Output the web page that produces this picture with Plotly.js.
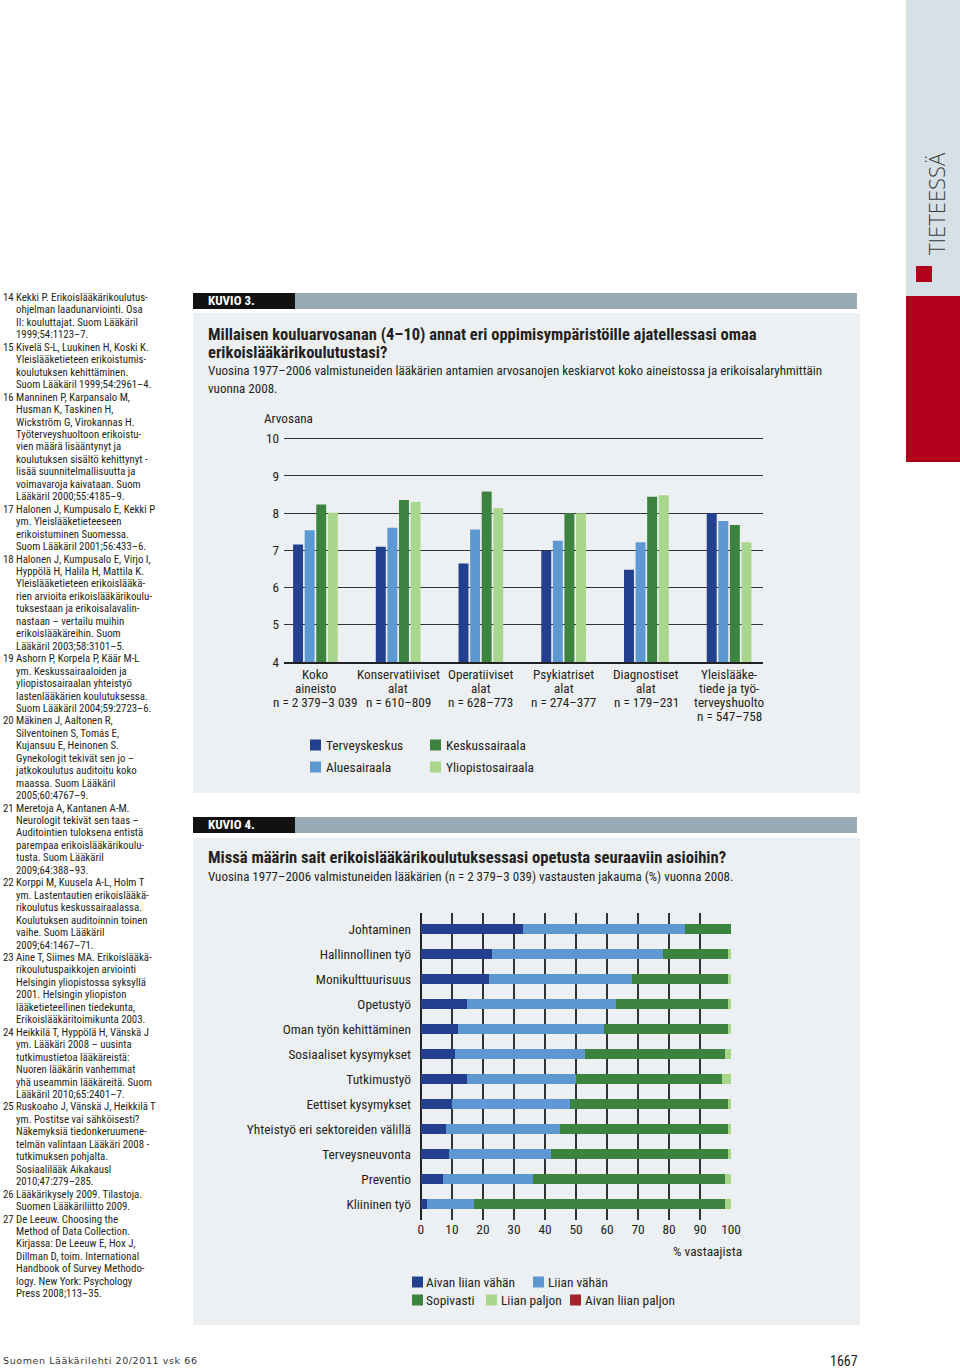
<!DOCTYPE html>
<html><head><meta charset="utf-8">
<script src="https://cdn.plot.ly/plotly-3.0.1.min.js"></script>
<style>
body{margin:0;background:#fff;}
#page{position:relative;width:960px;height:1370px;overflow:hidden;font-family:"Roboto Condensed","DejaVu Sans Condensed",sans-serif;color:#231f20;}
.refs{position:absolute;left:0;top:292px;width:190px;font-size:10.8px;line-height:12.45px;}
.ref{position:relative;padding-left:16px;white-space:nowrap;}
.ref .n{position:absolute;left:3px;top:0;}
.hdr{position:absolute;left:193px;width:664px;height:16px;background:#9aabb8;}
.hdr .lab{position:absolute;left:0;top:0;width:102px;height:16px;background:#111;color:#fff;font-weight:bold;font-size:13px;line-height:16px;padding-left:15px;box-sizing:border-box;}
.panel{position:absolute;left:193px;width:667px;background:#edf0f2;}
.ln{position:absolute;left:208px;white-space:nowrap;line-height:18px;}
.t{font-weight:bold;font-size:16.5px;}
.s{font-size:13.05px;}
.plot{position:absolute;left:193px;width:667px;}
#side1{position:absolute;left:906px;top:0;width:54px;height:296px;background:#d5e0e7;}
#side2{position:absolute;left:906px;top:296px;width:54px;height:166px;background:#b0001a;}
#sidetxt{position:absolute;left:925px;top:255px;transform-origin:0 0;transform:rotate(-90deg);font-family:"Open Sans","DejaVu Sans",sans-serif;font-weight:300;font-size:22px;line-height:22px;color:#3a3a3a;white-space:nowrap;}
#sidesq{position:absolute;left:916px;top:266px;width:16px;height:16px;background:#b0001a;}
#foot1{position:absolute;left:3px;top:1355px;font-family:"DejaVu Sans",sans-serif;font-size:9.5px;letter-spacing:0.6px;color:#333;}
#foot2{position:absolute;left:830px;top:1353px;font-size:14px;color:#222;}
</style></head>
<body><div id="page">
<div id="side1"></div><div id="side2"></div>
<div id="sidetxt">TIETEESSÄ</div><div id="sidesq"></div>
<div class="refs" id="refs"></div>

<div class="hdr" style="top:293px"><div class="lab">KUVIO 3.</div></div>
<div class="panel" style="top:313px;height:480px"></div>
<div class="ln t" style="top:326px">Millaisen kouluarvosanan (4–10) annat eri oppimisympäristöille ajatellessasi omaa</div>
<div class="ln t" style="top:344px">erikoislääkärikoulutustasi?</div>
<div class="ln s" style="top:362px">Vuosina 1977–2006 valmistuneiden lääkärien antamien arvosanojen keskiarvot koko aineistossa ja erikoisalaryhmittäin</div>
<div class="ln s" style="top:380px">vuonna 2008.</div>
<div class="plot" id="chart3" style="top:400px;height:390px"></div>

<div class="hdr" style="top:817px"><div class="lab">KUVIO 4.</div></div>
<div class="panel" style="top:838px;height:487px"></div>
<div class="ln t" style="top:849px;font-size:16.6px">Missä määrin sait erikoislääkärikoulutuksessasi opetusta seuraaviin asioihin?</div>
<div class="ln s" style="top:868px;font-size:13px">Vuosina 1977–2006 valmistuneiden lääkärien (n = 2 379–3 039) vastausten jakauma (%) vuonna 2008.</div>
<div class="plot" id="chart4" style="top:900px;height:420px"></div>

<div id="foot1">Suomen Lääkärilehti 20/2011 vsk 66</div>
<div id="foot2">1667</div>
</div>
<script>
// ---------- References (left column) ----------
const references = [
 ["14","Kekki P. Erikoislääkärikoulutus-","ohjelman laadunarviointi. Osa","II: kouluttajat. Suom Lääkäril","1999;54:1123–7."],
 ["15","Kivelä S-L, Luukinen H, Koski K.","Yleislääketieteen erikoistumis-","koulutuksen kehittäminen.","Suom Lääkäril 1999;54:2961–4."],
 ["16","Manninen P, Karpansalo M,","Husman K, Taskinen H,","Wickström G, Virokannas H.","Työterveyshuoltoon erikoistu-","vien määrä lisääntynyt ja","koulutuksen sisältö kehittynyt -","lisää suunnitelmallisuutta ja","voimavaroja kaivataan. Suom","Lääkäril 2000;55:4185–9."],
 ["17","Halonen J, Kumpusalo E, Kekki P","ym. Yleislääketieteeseen","erikoistuminen Suomessa.","Suom Lääkäril 2001;56:433–6."],
 ["18","Halonen J, Kumpusalo E, Virjo I,","Hyppölä H, Halila H, Mattila K.","Yleislääketieteen erikoislääkä-","rien arvioita erikoislääkärikoulu-","tuksestaan ja erikoisalavalin-","nastaan – vertailu muihin","erikoislääkäreihin. Suom","Lääkäril 2003;58:3101–5."],
 ["19","Ashorn P, Korpela P, Käär M-L","ym. Keskussairaaloiden ja","yliopistosairaalan yhteistyö","lastenlääkärien koulutuksessa.","Suom Lääkäril 2004;59:2723–6."],
 ["20","Mäkinen J, Aaltonen R,","Silventoinen S, Tomás E,","Kujansuu E, Heinonen S.","Gynekologit tekivät sen jo –","jatkokoulutus auditoitu koko","maassa. Suom Lääkäril","2005;60:4767–9."],
 ["21","Meretoja A, Kantanen A-M.","Neurologit tekivät sen taas –","Auditointien tuloksena entistä","parempaa erikoislääkärikoulu-","tusta. Suom Lääkäril","2009;64:388–93."],
 ["22","Korppi M, Kuusela A-L, Holm T","ym. Lastentautien erikoislääkä-","rikoulutus keskussairaalassa.","Koulutuksen auditoinnin toinen","vaihe. Suom Lääkäril","2009;64:1467–71."],
 ["23","Aine T, Siimes MA. Erikoislääkä-","rikoulutuspaikkojen arviointi","Helsingin yliopistossa syksyllä","2001. Helsingin yliopiston","lääketieteellinen tiedekunta,","Erikoislääkäritoimikunta 2003."],
 ["24","Heikkilä T, Hyppölä H, Vänskä J","ym. Lääkäri 2008 – uusinta","tutkimustietoa lääkäreistä:","Nuoren lääkärin vanhemmat","yhä useammin lääkäreitä. Suom","Lääkäril 2010;65:2401–7."],
 ["25","Ruskoaho J, Vänskä J, Heikkilä T","ym. Postitse vai sähköisesti?","Näkemyksiä tiedonkeruumene-","telmän valintaan Lääkäri 2008 -","tutkimuksen pohjalta.","Sosiaalilääk Aikakausl","2010;47:279–285."],
 ["26","Lääkärikysely 2009. Tilastoja.","Suomen Lääkäriliitto 2009."],
 ["27","De Leeuw. Choosing the","Method of Data Collection.","Kirjassa: De Leeuw E, Hox J,","Dillman D, toim. International","Handbook of Survey Methodo-","logy. New York: Psychology","Press 2008;113–35."]
];
(function(){
  const box = document.getElementById('refs');
  references.forEach(r => {
    const d = document.createElement('div'); d.className='ref';
    const n = document.createElement('span'); n.className='n'; n.textContent=r[0]; d.appendChild(n);
    r.slice(1).forEach((line,i)=>{ if(i) d.appendChild(document.createElement('br')); d.appendChild(document.createTextNode(line)); });
    box.appendChild(d);
  });
})();

// ---------- KUVIO 3 data ----------
const groups3 = ["Koko aineisto","Konservatiiviset alat","Operatiiviset alat","Psykiatriset alat","Diagnostiset alat","Yleislääketiede ja työterveyshuolto"];
const groupLabelLines3 = [
  ["Koko","aineisto","n = 2 379–3 039"],
  ["Konservatiiviset","alat","n = 610–809"],
  ["Operatiiviset","alat","n = 628–773"],
  ["Psykiatriset","alat","n = 274–377"],
  ["Diagnostiset","alat","n = 179–231"],
  ["Yleislääke-","tiede ja työ-","terveyshuolto","n = 547–758"]
];
const terveyskeskus     = [7.16, 7.10, 6.65, 6.99, 6.48, 8.00];
const aluesairaala      = [7.54, 7.61, 7.56, 7.26, 7.22, 7.79];
const keskussairaala    = [8.23, 8.35, 8.58, 8.00, 8.44, 7.68];
const yliopistosairaala = [8.01, 8.30, 8.13, 8.00, 8.48, 7.22];

// ---------- KUVIO 4 data ----------
const topics = ["Johtaminen","Hallinnollinen työ","Monikulttuurisuus","Opetustyö","Oman työn kehittäminen","Sosiaaliset kysymykset","Tutkimustyö","Eettiset kysymykset","Yhteistyö eri sektoreiden välillä","Terveysneuvonta","Preventio","Kliininen työ"];
const aivanLiianVahan  = [33,23,22,15,12,11,15,10, 8, 9, 7, 2];
const liianVahan       = [52,55,46,48,47,42,35,38,37,33,29,15];
const sopivasti        = [15,21,31,36,40,45,47,51,54,57,62,81];
const liianPaljon      = [ 0, 1, 1, 1, 1, 2, 3, 1, 1, 1, 2, 2];
const aivanLiianPaljon = [ 0, 0, 0, 0, 0, 0, 0, 0, 0, 0, 0, 0];

const FONT = 'Roboto Condensed, DejaVu Sans Condensed, sans-serif';
const TXT = '#231f20';
const C_DB='#23408e', C_LB='#5e98d2', C_G='#3c8340', C_LG='#a9d68c', C_R='#a3232d';

// Legend key builder: square + label for each trace (names/colours taken from the traces),
// placed at pixel slots (page coordinates) converted to paper fractions of the plot area.
function legendKeys(traces, slots, L, W, B, H, fs){
  const shapes=[], ann=[];
  traces.forEach((tr,i)=>{
    const s=slots[i], sz=11;
    shapes.push({type:'rect',xref:'paper',yref:'paper',
      x0:(s.sq-L)/W, x1:(s.sq+sz-L)/W, y0:(B-(s.y+sz/2))/H, y1:(B-(s.y-sz/2))/H,
      fillcolor:tr.marker.color,line:{width:0},layer:'above'});
    ann.push({xref:'paper',yref:'paper',x:(s.tx-2-L)/W,y:(B-s.y)/H,xanchor:'left',yanchor:'middle',
      text:tr.name,showarrow:false,font:{size:fs}});
  });
  return {shapes,ann};
}

// chart 3
(function(){
  const L=284, W=479, B=662, H=227;
  const mk=(name,y,col)=>({type:'bar',name:name,x:groups3,y:y,marker:{color:col},hoverinfo:'skip'});
  const data=[mk('Terveyskeskus',terveyskeskus,C_DB),
              mk('Aluesairaala',aluesairaala,C_LB),
              mk('Keskussairaala',keskussairaala,C_G),
              mk('Yliopistosairaala',yliopistosairaala,C_LG)];
  const slots=[{sq:310,tx:326,y:745},{sq:310,tx:326,y:767},{sq:430,tx:446,y:745},{sq:430,tx:446,y:767}];
  const lg=legendKeys(data,slots,L,W,B,H,13.4);
  const ann=[{xref:'paper',yref:'paper',x:(264-2-L)/W,y:1+(435-418)/H,xanchor:'left',yanchor:'middle',text:'Arvosana',showarrow:false,font:{size:13.2}}];
  groupLabelLines3.forEach((lines,i)=>lines.forEach((t,j)=>ann.push({
    xref:'x',yref:'paper',x:groups3[i],y:-(12+14*j)/H,xanchor:'center',yanchor:'middle',
    text:t,showarrow:false,font:{size:13.2}})));
  const layout={
    width:667,height:390,margin:{l:91,r:97,t:35,b:128,autoexpand:false},
    paper_bgcolor:'rgba(0,0,0,0)',plot_bgcolor:'rgba(0,0,0,0)',
    font:{family:FONT,size:13.2,color:TXT},
    barmode:'group',bargap:0.44,bargroupgap:0.14,showlegend:false,
    xaxis:{type:'category',range:[-0.38,5.41],showline:true,linecolor:'#222',linewidth:2,ticks:'',showticklabels:false,showgrid:false,fixedrange:true},
    yaxis:{range:[4,10.1],dtick:1,tick0:4,showgrid:true,gridcolor:'#333',gridwidth:1,zeroline:false,ticks:'',ticklabelstandoff:4,tickfont:{size:13.2},fixedrange:true},
    shapes:lg.shapes,
    annotations:ann.concat(lg.ann)
  };
  Plotly.newPlot('chart3',data,layout,{displayModeBar:false,staticPlot:true});
})();

// chart 4
(function(){
  const L=420, W=312, B=1220, H=307;
  const mk=(name,x,col)=>({type:'bar',orientation:'h',name:name,y:topics,x:x,marker:{color:col},hoverinfo:'skip'});
  const data=[mk('Aivan liian vähän',aivanLiianVahan,C_DB),
              mk('Liian vähän',liianVahan,C_LB),
              mk('Sopivasti',sopivasti,C_G),
              mk('Liian paljon',liianPaljon,C_LG),
              mk('Aivan liian paljon',aivanLiianPaljon,C_R)];
  const slots=[{sq:412,tx:426,y:1282},{sq:533,tx:548,y:1282},{sq:412,tx:426,y:1300},{sq:486,tx:501,y:1300},{sq:570,tx:585,y:1300}];
  const lg=legendKeys(data,slots,L,W,B,H,13.4);
  const layout={
    width:667,height:420,margin:{l:227,r:128,t:13,b:100,autoexpand:false},
    paper_bgcolor:'rgba(0,0,0,0)',plot_bgcolor:'rgba(0,0,0,0)',
    font:{family:FONT,size:13.4,color:TXT},
    barmode:'stack',bargap:0.6,showlegend:false,
    xaxis:{range:[-0.3,100.3],dtick:10,tick0:0,showgrid:true,gridcolor:'#333',gridwidth:1.5,zeroline:true,zerolinecolor:'#222',zerolinewidth:2.5,ticks:'',tickfont:{size:13.4},fixedrange:true},
    yaxis:{type:'category',range:[11.64,-0.64],showgrid:false,ticks:'',ticklabelstandoff:8,tickfont:{size:13.4},fixedrange:true},
    shapes:lg.shapes,
    annotations:[{xref:'paper',yref:'paper',x:0.92,y:-0.101,xanchor:'center',yanchor:'middle',text:'% vastaajista',showarrow:false,font:{size:13.4}}].concat(lg.ann)
  };
  Plotly.newPlot('chart4',data,layout,{displayModeBar:false,staticPlot:true});
})();
</script>
</body></html>
